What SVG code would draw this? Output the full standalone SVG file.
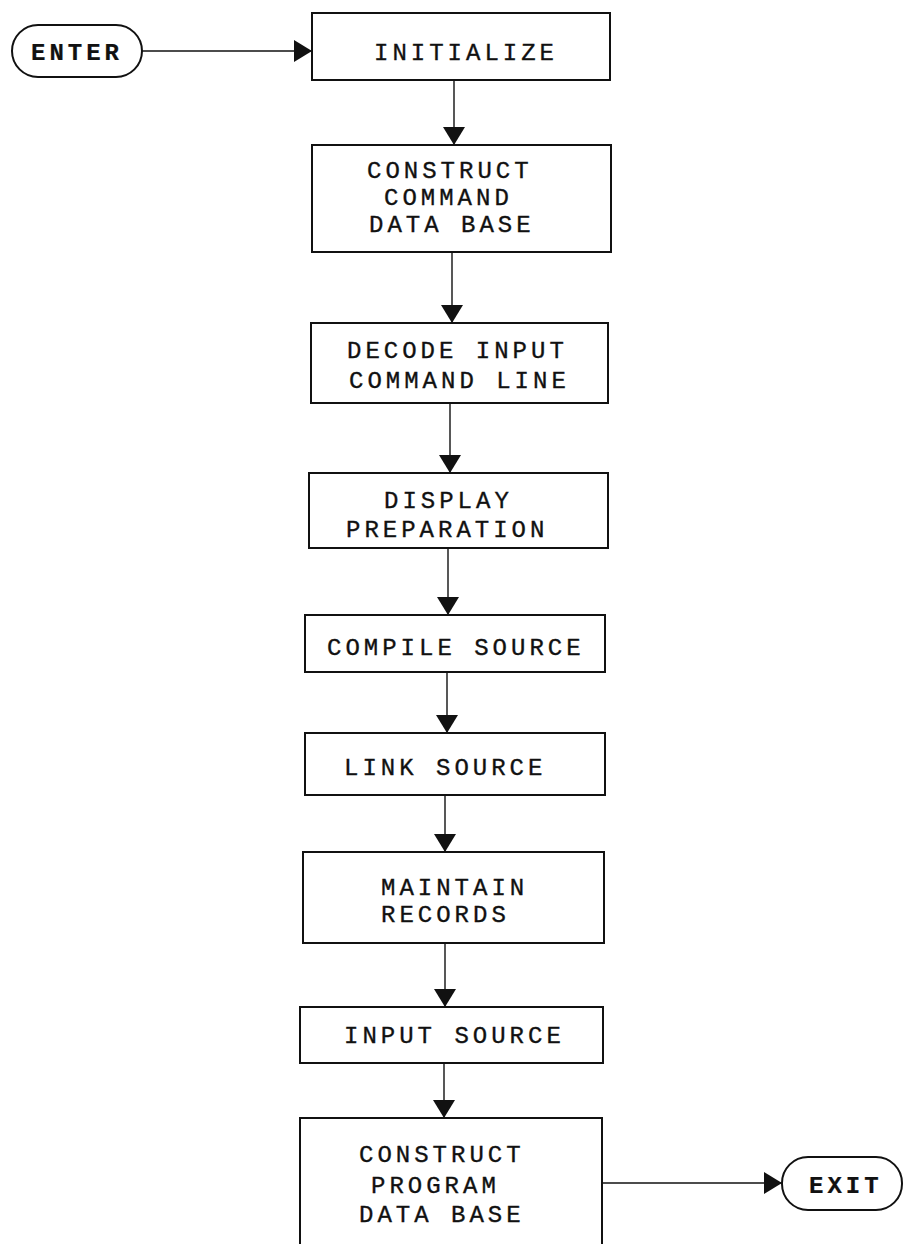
<svg xmlns="http://www.w3.org/2000/svg" width="904" height="1244" viewBox="0 0 904 1244">
  <style>
    .box { fill: #fff; stroke: #111; stroke-width: 2; }
    .term { fill: #fff; stroke: #111; stroke-width: 2; }
    .lbl { font-family: "Liberation Mono", "Courier New", monospace; font-size: 24px; letter-spacing: 4px; fill: #111; stroke: #111; stroke-width: 0.35; }
    .term-lbl { font-weight: bold; stroke-width: 0.2; }
    .conn { stroke: #111; stroke-width: 1.4; fill: none; }
  </style>
  <defs>
    <marker id="arrow" markerUnits="userSpaceOnUse" viewBox="0 0 18 22" refX="18" refY="11" markerWidth="18" markerHeight="22" orient="auto">
      <path d="M0,0 L18,11 L0,22 Z" fill="#111"/>
    </marker>
  </defs>
  <rect width="904" height="1244" fill="#fff"/>

  <g id="connectors">
    <line class="conn" x1="142" y1="51" x2="312" y2="51" marker-end="url(#arrow)"/>
    <line class="conn" x1="454" y1="80" x2="454" y2="145" marker-end="url(#arrow)"/>
    <line class="conn" x1="452" y1="252" x2="452" y2="323" marker-end="url(#arrow)"/>
    <line class="conn" x1="450" y1="403" x2="450" y2="473" marker-end="url(#arrow)"/>
    <line class="conn" x1="448" y1="548" x2="448" y2="615" marker-end="url(#arrow)"/>
    <line class="conn" x1="447" y1="672" x2="447" y2="733" marker-end="url(#arrow)"/>
    <line class="conn" x1="445" y1="795" x2="445" y2="852" marker-end="url(#arrow)"/>
    <line class="conn" x1="445" y1="943" x2="445" y2="1007" marker-end="url(#arrow)"/>
    <line class="conn" x1="444" y1="1063" x2="444" y2="1118" marker-end="url(#arrow)"/>
    <line class="conn" x1="602" y1="1183" x2="782" y2="1183" marker-end="url(#arrow)"/>
  </g>

  <g id="enter">
    <rect class="term" x="12" y="25" width="130" height="52" rx="26"/>
    <text class="lbl term-lbl" x="31" y="60">ENTER</text>
  </g>

  <g id="initialize">
    <rect class="box" x="312" y="13" width="298" height="67"/>
    <text class="lbl" x="374" y="60">INITIALIZE</text>
  </g>

  <g id="construct-command-db">
    <rect class="box" x="312" y="145" width="299" height="107"/>
    <text class="lbl" x="367" y="178">CONSTRUCT</text>
    <text class="lbl" x="384" y="205">COMMAND</text>
    <text class="lbl" x="369" y="232">DATA BASE</text>
  </g>

  <g id="decode-input">
    <rect class="box" x="311" y="323" width="297" height="80"/>
    <text class="lbl" x="347" y="358">DECODE INPUT</text>
    <text class="lbl" x="349" y="388">COMMAND LINE</text>
  </g>

  <g id="display-prep">
    <rect class="box" x="309" y="473" width="299" height="75"/>
    <text class="lbl" x="384" y="508">DISPLAY</text>
    <text class="lbl" x="346" y="537">PREPARATION</text>
  </g>

  <g id="compile-source">
    <rect class="box" x="305" y="615" width="300" height="57"/>
    <text class="lbl" x="327" y="655">COMPILE SOURCE</text>
  </g>

  <g id="link-source">
    <rect class="box" x="305" y="733" width="300" height="62"/>
    <text class="lbl" x="344" y="775">LINK SOURCE</text>
  </g>

  <g id="maintain-records">
    <rect class="box" x="303" y="852" width="301" height="91"/>
    <text class="lbl" x="381" y="895">MAINTAIN</text>
    <text class="lbl" x="381" y="922">RECORDS</text>
  </g>

  <g id="input-source">
    <rect class="box" x="300" y="1007" width="303" height="56"/>
    <text class="lbl" x="344" y="1043">INPUT SOURCE</text>
  </g>

  <g id="construct-program-db">
    <rect class="box" x="300" y="1118" width="302" height="140"/>
    <text class="lbl" x="359" y="1162">CONSTRUCT</text>
    <text class="lbl" x="371" y="1193">PROGRAM</text>
    <text class="lbl" x="359" y="1222">DATA BASE</text>
  </g>

  <g id="exit">
    <rect class="term" x="782" y="1157" width="120" height="53" rx="26"/>
    <text class="lbl term-lbl" x="809" y="1193">EXIT</text>
  </g>
</svg>
